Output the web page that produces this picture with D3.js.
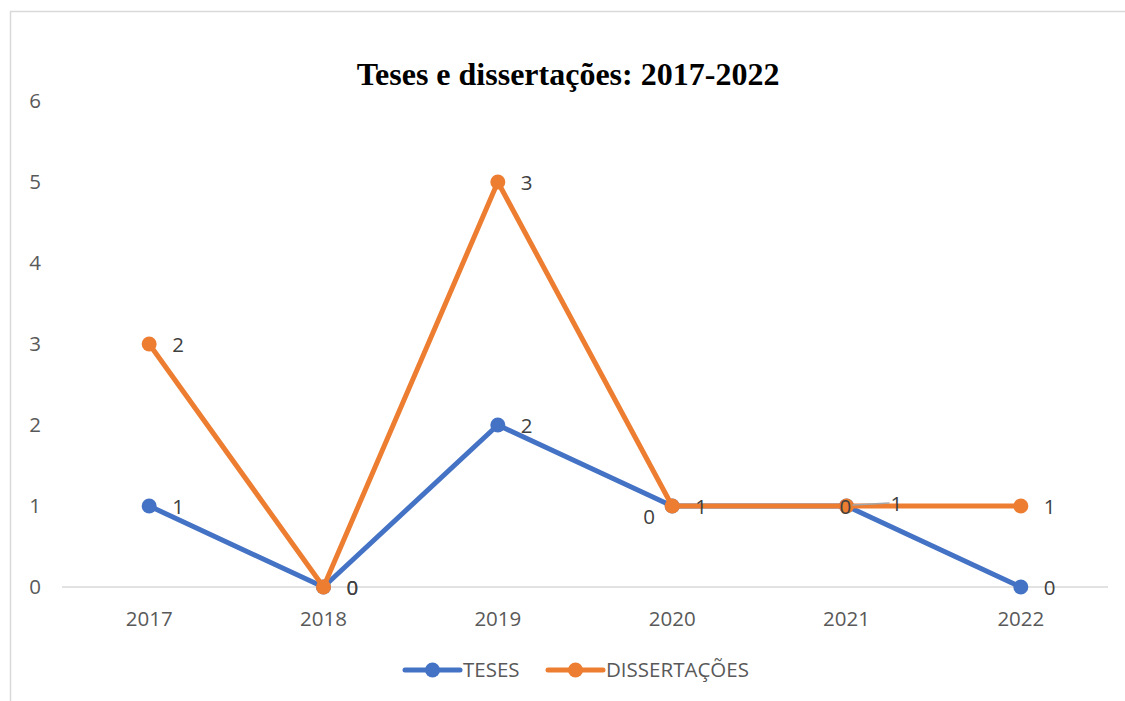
<!DOCTYPE html>
<html>
<head>
<meta charset="utf-8">
<script src="https://cdn.jsdelivr.net/npm/d3@7"></script>
<style>
  body { margin: 0; background: #fff; }
  svg { display: block; }
</style>
</head>
<body>
<div id="chart"></div>
<script>
// data
var years = ["2017", "2018", "2019", "2020", "2021", "2022"];
var teses = [1, 0, 2, 1, 1, 0];
var dissertacoes = [2, 0, 3, 0, 0, 1];
var yTicks = [0, 1, 2, 3, 4, 5, 6];

var width = 1125, height = 701;
var textColor = "#595959";
var font = "'Open Sans', Lato, sans-serif";
var fontSize = "20.5px";

var svg = d3.select("#chart").append("svg")
    .attr("width", width)
    .attr("height", height);

// chart frame
svg.append("rect")
    .attr("x", 10.5).attr("y", 11.5)
    .attr("width", width + 20).attr("height", height + 20)
    .attr("fill", "none")
    .attr("stroke", "#d9d9d9")
    .attr("stroke-width", 1.5);

// stacked line: dissertacoes is drawn on top of teses
var stacked = dissertacoes.map(function(d, i) { return d + teses[i]; });

var xScale = d3.scaleBand()
    .domain(years)
    .range([62, 1108]);

var yScale = d3.scaleLinear()
    .domain([0, 6])
    .range([587, 101]);

function cx(d, i) { return xScale(years[i]) + xScale.bandwidth() / 2; }

// title
svg.append("text")
    .attr("x", 568).attr("y", 85)
    .attr("text-anchor", "middle")
    .style("font-family", "'Liberation Serif', 'Times New Roman', serif")
    .style("font-weight", "bold")
    .style("font-size", "32px")
    .style("fill", "#000")
    .text("Teses e dissertações: 2017-2022");

// y tick labels (no gridlines)
svg.selectAll(".ytick")
    .data(yTicks)
   .enter()
    .append("text")
    .attr("class", "ytick")
    .attr("x", 35)
    .attr("y", function(d) { return yScale(d) + 7; })
    .attr("text-anchor", "middle")
    .style("font-family", font)
    .style("font-size", fontSize)
    .style("fill", textColor)
    .text(function(d) { return d; });

// baseline
svg.append("line")
    .attr("x1", 62).attr("x2", 1108)
    .attr("y1", yScale(0)).attr("y2", yScale(0))
    .attr("stroke", "#d9d9d9")
    .attr("stroke-width", 1.5);

// x labels
var xAxis = d3.axisBottom(xScale).tickSize(0).tickPadding(0);
var gx = svg.append("g")
    .attr("transform", "translate(0," + (yScale(0) + 39) + ")")
    .call(xAxis);
gx.select(".domain").remove();
gx.selectAll("text")
    .attr("dy", 0)
    .style("font-family", font)
    .style("font-size", fontSize)
    .style("fill", textColor);

var line = d3.line()
    .x(cx)
    .y(function(d) { return yScale(d); });

var series = [
  { name: "TESES", values: teses, labels: teses, color: "#4472C4" },
  { name: "DISSERTAÇÕES", values: stacked, labels: dissertacoes, color: "#ED7D31" }
];

// labels that were moved by hand in the original
var labelShift = {
  "DISSERTAÇÕES-3": [-52, 10],
  "DISSERTAÇÕES-4": [-30, 0],
  "TESES-4": [21, -3]
};

series.forEach(function(s) {
  svg.append("path")
    .datum(s.values)
    .attr("d", line)
    .attr("fill", "none")
    .attr("stroke", s.color)
    .attr("stroke-width", 5)
    .attr("stroke-linejoin", "round")
    .attr("stroke-linecap", "round");

  svg.selectAll(".pt-" + s.name)
    .data(s.values)
   .enter()
    .append("circle")
    .attr("cx", cx)
    .attr("cy", function(d) { return yScale(d); })
    .attr("r", 7.5)
    .attr("fill", s.color);
});

// leader line for the moved label in 2021
svg.append("line")
    .attr("x1", cx(0, 4) + 6).attr("y1", yScale(teses[4]) - 1)
    .attr("x2", cx(0, 4) + 43).attr("y2", yScale(teses[4]) - 3)
    .attr("stroke", "#a6a6a6")
    .attr("stroke-width", 1.5);

series.forEach(function(s) {
  svg.selectAll(".lbl-" + s.name)
    .data(s.values)
   .enter()
    .append("text")
    .attr("x", function(d, i) {
      var sh = labelShift[s.name + "-" + i];
      return cx(d, i) + 23 + (sh ? sh[0] : 0);
    })
    .attr("y", function(d, i) {
      var sh = labelShift[s.name + "-" + i];
      return yScale(d) + 8 + (sh ? sh[1] : 0);
    })
    .style("font-family", font)
    .style("font-size", fontSize)
    .style("fill", "#404040")
    .text(function(d, i) { return s.labels[i]; });
});

// legend
var legend = svg.append("g").attr("transform", "translate(0,670)");
var legendItems = [
  { name: "TESES", color: "#4472C4", x: 405 },
  { name: "DISSERTAÇÕES", color: "#ED7D31", x: 548 }
];
legendItems.forEach(function(it) {
  legend.append("line")
    .attr("x1", it.x).attr("x2", it.x + 55)
    .attr("y1", 0).attr("y2", 0)
    .attr("stroke", it.color)
    .attr("stroke-width", 5)
    .attr("stroke-linecap", "round");
  legend.append("circle")
    .attr("cx", it.x + 27.5).attr("cy", 0)
    .attr("r", 7.5)
    .attr("fill", it.color);
  legend.append("text")
    .attr("x", it.x + 58).attr("y", 7)
    .style("font-family", font)
    .style("font-size", fontSize)
    .style("fill", textColor)
    .text(it.name);
});
</script>
</body>
</html>
